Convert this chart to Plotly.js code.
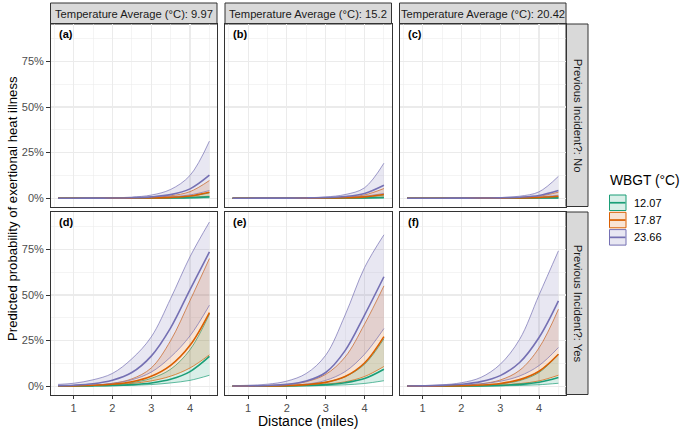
<!DOCTYPE html>
<html>
<head>
<meta charset="utf-8">
<script src="https://cdn.plot.ly/plotly-3.0.1.min.js"></script>
<style>html,body{margin:0;padding:0;background:#fff;}#chart{width:685px;height:432px;}</style>
</head>
<body>
<div id="chart"></div>
<script>
// Distance (miles)
const distance = [0.6, 1, 1.5, 2, 2.5, 3, 3.5, 4, 4.5];
const wbgtLevels = ['12.07', '17.87', '23.66'];
const tempLabels = ['Temperature Average (°C): 9.97', 'Temperature Average (°C): 15.2', 'Temperature Average (°C): 20.42'];
const incidentLabels = ['Previous Incident?: No', 'Previous Incident?: Yes'];
const panelTags = ['(a)', '(b)', '(c)', '(d)', '(e)', '(f)'];

// Predicted probability (%) — lower / mean / upper, per panel and WBGT
// (a) No, 9.97
const a_g_lo = [0.01,0.01,0.01,0.01,0.02,0.03,0.05,0.09,0.2];
const a_g_mid = [0.01,0.01,0.01,0.02,0.04,0.08,0.15,0.3,0.7];
const a_g_hi = [0.01,0.01,0.02,0.03,0.06,0.14,0.38,1.05,2.9];
const a_o_lo = [0.01,0.01,0.01,0.01,0.03,0.07,0.18,0.45,1.1];
const a_o_mid = [0.01,0.01,0.01,0.02,0.06,0.17,0.46,1.25,3.3];
const a_o_hi = [0.01,0.01,0.02,0.06,0.16,0.45,1.3,3.6,9.7];
const a_p_lo = [0.01,0.01,0.02,0.05,0.13,0.3,0.75,1.8,4.2];
const a_p_mid = [0.01,0.01,0.04,0.1,0.27,0.73,1.95,5.1,12.6];
const a_p_hi = [0.01,0.03,0.07,0.2,0.6,1.7,4.8,12.5,31.3];
// (b) No, 15.2
const b_g_lo = [0,0,0,0,0.01,0.01,0.02,0.04,0.1];
const b_g_mid = [0,0,0,0.01,0.01,0.03,0.07,0.17,0.4];
const b_g_hi = [0,0,0.01,0.01,0.03,0.08,0.22,0.6,1.7];
const b_o_lo = [0,0,0,0.01,0.02,0.04,0.1,0.25,0.6];
const b_o_mid = [0,0,0.01,0.01,0.04,0.1,0.27,0.75,2.0];
const b_o_hi = [0,0.01,0.01,0.03,0.07,0.2,0.6,1.8,5.3];
const b_p_lo = [0,0.01,0.01,0.03,0.07,0.18,0.45,1.1,2.6];
const b_p_mid = [0,0.01,0.02,0.05,0.13,0.35,0.95,2.6,7.1];
const b_p_hi = [0.01,0.01,0.03,0.08,0.25,0.7,2.0,5.7,19.2];
// (c) No, 20.42
const c_g_lo = [0,0,0,0,0,0.01,0.01,0.02,0.05];
const c_g_mid = [0,0,0,0,0.01,0.01,0.03,0.08,0.2];
const c_g_hi = [0,0,0,0.01,0.01,0.04,0.12,0.35,1.0];
const c_o_lo = [0,0,0,0,0.01,0.02,0.05,0.12,0.3];
const c_o_mid = [0,0,0,0.01,0.02,0.05,0.15,0.4,1.1];
const c_o_hi = [0,0,0.01,0.01,0.04,0.12,0.36,1.1,3.3];
const c_p_lo = [0,0,0.01,0.02,0.04,0.1,0.26,0.65,1.6];
const c_p_mid = [0,0.01,0.01,0.03,0.07,0.2,0.55,1.5,4.2];
const c_p_hi = [0,0.01,0.01,0.04,0.12,0.35,1.1,3.5,12];
// (d) Yes, 9.97
const d_g_lo = [0.04,0.07,0.13,0.25,0.5,0.9,1.8,3.2,6];
const d_g_mid = [0.05,0.1,0.2,0.4,0.85,1.8,3.8,8,16.3];
const d_g_hi = [0.1,0.2,0.4,0.9,2,4.3,9.3,20,39.5];
const d_o_lo = [0.08,0.15,0.35,0.7,1.5,2.9,5.5,10,17.2];
const d_o_mid = [0.1,0.2,0.5,1.1,2.4,5.4,11.4,22.4,40.4];
const d_o_hi = [0.12,0.25,0.6,1.6,4,10,25,47,70];
const d_p_lo = [0.12,0.25,0.6,1.5,3.5,7.7,16,27.6,44.4];
const d_p_mid = [0.3,0.55,1.35,3.3,7.5,16.5,32,53,73.6];
const d_p_hi = [1.0,1.6,3.5,7,15,27,48,71,90];
// (e) Yes, 15.2
const e_g_lo = [0.01,0.02,0.04,0.09,0.18,0.37,0.75,1.5,3];
const e_g_mid = [0.02,0.04,0.08,0.18,0.4,0.85,1.9,4.2,9.3];
const e_g_hi = [0.04,0.07,0.17,0.4,0.9,2.2,5.2,12,26];
const e_o_lo = [0.02,0.04,0.1,0.22,0.5,1.1,2.4,5.3,10.8];
const e_o_mid = [0.03,0.05,0.13,0.33,0.85,2.1,5.3,12.7,27.2];
const e_o_hi = [0.08,0.16,0.4,1,2.5,6.5,16,34,55];
const e_p_lo = [0.03,0.06,0.15,0.4,1.1,3.2,8,17.5,31.6];
const e_p_mid = [0.07,0.15,0.4,1,2.8,7.5,19.5,39,60];
const e_p_hi = [0.3,0.5,1.1,2.8,7,17,39,65,83];
// (f) Yes, 20.42
const f_g_lo = [0.01,0.01,0.02,0.05,0.1,0.2,0.4,0.8,1.6];
const f_g_mid = [0.01,0.02,0.04,0.09,0.2,0.45,1.0,2.2,4.8];
const f_g_hi = [0.02,0.03,0.08,0.2,0.5,1.25,3.1,7.5,17.5];
const f_o_lo = [0.02,0.03,0.06,0.14,0.3,0.65,1.4,2.9,6];
const f_o_mid = [0.02,0.04,0.1,0.26,0.62,1.5,3.6,8.2,17.5];
const f_o_hi = [0.04,0.08,0.2,0.5,1.3,3.4,8.7,21,42.2];
const f_p_lo = [0.07,0.13,0.28,0.6,1.3,2.7,5.6,11.3,21.2];
const f_p_mid = [0.09,0.18,0.43,1.05,2.5,5.8,13,26.7,46.8];
const f_p_hi = [0.15,0.3,0.75,1.9,4.8,12,25.7,50,74.2];

const panels = [
  [[a_g_lo,a_g_mid,a_g_hi],[a_o_lo,a_o_mid,a_o_hi],[a_p_lo,a_p_mid,a_p_hi]],
  [[b_g_lo,b_g_mid,b_g_hi],[b_o_lo,b_o_mid,b_o_hi],[b_p_lo,b_p_mid,b_p_hi]],
  [[c_g_lo,c_g_mid,c_g_hi],[c_o_lo,c_o_mid,c_o_hi],[c_p_lo,c_p_mid,c_p_hi]],
  [[d_g_lo,d_g_mid,d_g_hi],[d_o_lo,d_o_mid,d_o_hi],[d_p_lo,d_p_mid,d_p_hi]],
  [[e_g_lo,e_g_mid,e_g_hi],[e_o_lo,e_o_mid,e_o_hi],[e_p_lo,e_p_mid,e_p_hi]],
  [[f_g_lo,f_g_mid,f_g_hi],[f_o_lo,f_o_mid,f_o_hi],[f_p_lo,f_p_mid,f_p_hi]]
];

const colors = ['#1B9E77', '#D95F02', '#7570B3'];
const fills = ['rgba(27,158,119,0.17)', 'rgba(217,95,2,0.17)', 'rgba(117,112,179,0.17)'];

const W = 685, H = 432;
const px = v => v / W;
const py = v => 1 - v / H;
const colX = [[50.5, 217], [225, 391.5], [399.5, 566]];
const rowY = [[24, 206.5], [212, 394.5]];

const traces = [];
panels.forEach((groups, pi) => {
  const sfx = pi === 0 ? '' : String(pi + 1);
  const xa = 'x' + sfx, ya = 'y' + sfx;
  groups.forEach((g, gi) => {
    traces.push({x: distance, y: g[0], xaxis: xa, yaxis: ya, type: 'scatter', mode: 'lines',
      line: {color: colors[gi], width: 0.7, shape: 'spline'}, showlegend: false, hoverinfo: 'skip'});
    traces.push({x: distance, y: g[2], xaxis: xa, yaxis: ya, type: 'scatter', mode: 'lines', fill: 'tonexty',
      fillcolor: fills[gi], line: {color: colors[gi], width: 0.7, shape: 'spline'}, showlegend: false, hoverinfo: 'skip'});
  });
  groups.forEach((g, gi) => {
    traces.push({x: distance, y: g[1], xaxis: xa, yaxis: ya, type: 'scatter', mode: 'lines',
      line: {color: colors[gi], width: 1.6, shape: 'spline'}, name: wbgtLevels[gi], showlegend: false});
  });
});

const layout = {
  width: W, height: H,
  margin: {l: 0, r: 0, t: 0, b: 0},
  paper_bgcolor: '#FFFFFF', plot_bgcolor: '#FFFFFF',
  font: {family: 'Liberation Sans, Arial, sans-serif', color: '#1A1A1A'},
  showlegend: false,
  shapes: [], annotations: []
};

for (let pi = 0; pi < 6; pi++) {
  const r = Math.floor(pi / 3), c = pi % 3;
  const sfx = pi === 0 ? '' : String(pi + 1);
  const showX = r === 1, showY = c === 0;
  layout['xaxis' + sfx] = {
    domain: [px(colX[c][0]), px(colX[c][1])], anchor: 'y' + sfx,
    range: [0.405, 4.695], tickmode: 'linear', tick0: 0, dtick: 1,
    showgrid: true, gridcolor: '#EBEBEB', gridwidth: 1.1, zeroline: false,
    minor: {tick0: 0.5, dtick: 1, showgrid: true, gridcolor: '#EBEBEB', gridwidth: 0.55, ticks: ''},
    showline: true, mirror: true, linecolor: '#333333', linewidth: 1,
    ticks: showX ? 'outside' : '', ticklen: 3.5, tickwidth: 1, tickcolor: '#333333',
    showticklabels: showX, tickfont: {size: 11, color: '#4D4D4D'}, fixedrange: true
  };
  layout['yaxis' + sfx] = {
    domain: [py(rowY[r][1]), py(rowY[r][0])], anchor: 'x' + sfx,
    range: [-4.55, 95.5], tickmode: 'linear', tick0: 0, dtick: 25, ticksuffix: '%',
    showgrid: true, gridcolor: '#EBEBEB', gridwidth: 1.1, zeroline: false,
    minor: {tick0: 12.5, dtick: 25, showgrid: true, gridcolor: '#EBEBEB', gridwidth: 0.55, ticks: ''},
    showline: true, mirror: true, linecolor: '#333333', linewidth: 1,
    ticks: showY ? 'outside' : '', ticklen: 3.5, tickwidth: 1, tickcolor: '#333333',
    showticklabels: showY, tickfont: {size: 11, color: '#4D4D4D'}, fixedrange: true
  };
  layout.annotations.push({xref: 'paper', yref: 'paper', x: px(colX[c][0] + 6), y: py(rowY[r][0] + 10),
    xanchor: 'left', yanchor: 'middle', text: '<b>' + panelTags[pi] + '</b>', showarrow: false,
    font: {size: 11, color: '#000000'}});
}

// top strips
for (let c = 0; c < 3; c++) {
  layout.shapes.push({type: 'rect', xref: 'paper', yref: 'paper', x0: px(colX[c][0]), x1: px(colX[c][1]),
    y0: py(24), y1: py(3), fillcolor: '#D9D9D9', line: {color: '#333333', width: 1}, layer: 'below'});
  layout.annotations.push({xref: 'paper', yref: 'paper', x: px((colX[c][0] + colX[c][1]) / 2), y: py(13.5),
    xanchor: 'center', yanchor: 'middle', text: tempLabels[c], showarrow: false, font: {size: 11.2, color: '#1A1A1A'}});
}
// right strips
for (let r = 0; r < 2; r++) {
  layout.shapes.push({type: 'rect', xref: 'paper', yref: 'paper', x0: px(566), x1: px(588),
    y0: py(rowY[r][1]), y1: py(rowY[r][0]), fillcolor: '#D9D9D9', line: {color: '#333333', width: 1}, layer: 'below'});
  layout.annotations.push({xref: 'paper', yref: 'paper', x: px(577.5), y: py((rowY[r][0] + rowY[r][1]) / 2),
    xanchor: 'center', yanchor: 'middle', textangle: 90, text: incidentLabels[r], showarrow: false,
    font: {size: 11.3, color: '#1A1A1A'}});
}
// axis titles
layout.annotations.push({xref: 'paper', yref: 'paper', x: px(308), y: py(421), xanchor: 'center', yanchor: 'middle',
  text: 'Distance (miles)', showarrow: false, font: {size: 14, color: '#000000'}});
layout.annotations.push({xref: 'paper', yref: 'paper', x: px(12), y: py(209), xanchor: 'center', yanchor: 'middle',
  textangle: -90, text: 'Predicted probability of exertional heat illness', showarrow: false, font: {size: 13.2, color: '#000000'}});

// legend
layout.annotations.push({xref: 'paper', yref: 'paper', x: px(608), y: py(181), xanchor: 'left', yanchor: 'middle',
  text: 'WBGT (°C)', showarrow: false, font: {size: 13.8, color: '#000000'}});
for (let i = 0; i < 3; i++) {
  const top = 194.5 + i * 17.3, bot = top + 16.5, mid = (top + bot) / 2;
  layout.shapes.push({type: 'rect', xref: 'paper', yref: 'paper', x0: px(609.5), x1: px(626), y0: py(bot - 0.5), y1: py(top + 0.5),
    fillcolor: fills[i], line: {color: colors[i], width: 1}});
  layout.shapes.push({type: 'line', xref: 'paper', yref: 'paper', x0: px(610), x1: px(625.5), y0: py(mid), y1: py(mid),
    line: {color: colors[i], width: 1.7}});
  layout.annotations.push({xref: 'paper', yref: 'paper', x: px(632), y: py(mid), xanchor: 'left', yanchor: 'middle',
    text: wbgtLevels[i], showarrow: false, font: {size: 11, color: '#000000'}});
}

Plotly.newPlot('chart', traces, layout, {staticPlot: true, displayModeBar: false});
</script>
</body>
</html>
